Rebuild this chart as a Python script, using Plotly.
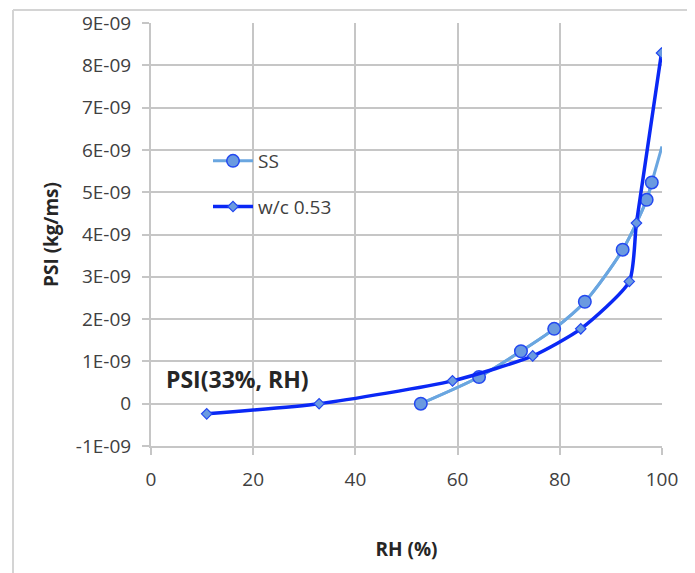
import plotly.graph_objects as go

# ---- data ----
ss_rh = [52.8, 64.2, 72.4, 78.9, 84.9, 92.3, 97.0, 98.0]
ss_psi = [0.0, 0.63e-9, 1.24e-9, 1.77e-9, 2.41e-9, 3.64e-9, 4.82e-9, 5.23e-9]
ss_tail_rh = [100.0]
ss_tail_psi = [6.08e-9]

wc_rh = [10.9, 32.9, 59.0, 74.7, 84.1, 93.6, 95.0, 99.9]
wc_psi = [-0.24e-9, 0.0, 0.54e-9, 1.13e-9, 1.77e-9, 2.89e-9, 4.27e-9, 8.29e-9]

x_ticks = [0, 20, 40, 60, 80, 100]
y_tickvals = [-1e-9, 0, 1e-9, 2e-9, 3e-9, 4e-9, 5e-9, 6e-9, 7e-9, 8e-9, 9e-9]
y_ticktext = ["-1E-09", "0", "1E-09", "2E-09", "3E-09", "4E-09", "5E-09",
              "6E-09", "7E-09", "8E-09", "9E-09"]

# ---- styling ----
FONT = "Open Sans"
GRID = "#c6c6c6"
SS_LINE = "#6aa6e0"
WC_LINE = "#0a28f5"
MARKER_FILL = "#6a9ae0"
MARKER_EDGE = "#2348f0"

OFF = 8  # page body margin
W, H = 695 - OFF, 573 - OFF
L, T = 151 - OFF, 23 - OFF
R = W - (662 - OFF)
B = H - (446 - OFF)
PW, PH = W - L - R, H - T - B


def px(x):  # screen pixel -> paper
    return (x - OFF - L) / PW


def py(y):
    return (H - B - (y - OFF)) / PH


fig = go.Figure()

# SS full curve (line only, includes the unmarked end of the curve)
fig.add_trace(go.Scatter(
    x=ss_rh + ss_tail_rh, y=ss_psi + ss_tail_psi, mode="lines",
    line=dict(color=SS_LINE, width=3, shape="spline", smoothing=0.8),
    showlegend=False, hoverinfo="skip"))

fig.add_trace(go.Scatter(
    x=ss_rh, y=ss_psi, mode="lines+markers", name="SS", legendgroup="a",
    line=dict(color=SS_LINE, width=3, shape="spline", smoothing=0.8),
    marker=dict(symbol="circle", size=12.5, color=MARKER_FILL,
                line=dict(color=MARKER_EDGE, width=1.5))))

fig.add_trace(go.Scatter(
    x=wc_rh, y=wc_psi, mode="lines+markers", name="w/c 0.53", legendgroup="b",
    line=dict(color=WC_LINE, width=3.5, shape="spline", smoothing=0.6),
    marker=dict(symbol="diamond", size=8, color=MARKER_FILL,
                line=dict(color=MARKER_EDGE, width=1.2))))

shapes = [
    # white boxes behind legend and label (hide gridlines)
    dict(type="rect", xref="paper", yref="paper", x0=px(198), x1=px(354),
         y0=py(232), y1=py(135), fillcolor="white", line=dict(width=0),
         layer="between"),
    dict(type="rect", xref="paper", yref="paper", x0=px(157), x1=px(318),
         y0=py(395), y1=py(357), fillcolor="white", line=dict(width=0),
         layer="between"),
    # outer frame lines (top and left)
    dict(type="line", xref="paper", yref="paper", x0=px(13), x1=px(700),
         y0=py(10), y1=py(10), line=dict(color="#d4d4d4", width=2)),
    dict(type="line", xref="paper", yref="paper", x0=px(13), x1=px(13),
         y0=py(10), y1=py(580), line=dict(color="#d4d4d4", width=2)),
]

fig.update_layout(
    width=W, height=H,
    margin=dict(l=L, r=R, t=T, b=B, autoexpand=False),
    paper_bgcolor="white", plot_bgcolor="white",
    font=dict(family=FONT, size=19, color="#404040"),
    shapes=shapes,
    showlegend=True,
    legend=dict(x=px(208), y=py(142), xanchor="left", yanchor="top",
                bgcolor="rgba(0,0,0,0)", borderwidth=0,
                font=dict(family=FONT, size=19, color="#404040"),
                traceorder="grouped", tracegroupgap=18, itemwidth=40),
    annotations=[dict(
        text="<b>PSI(33%, RH)</b>", xref="paper", yref="paper",
        x=px(237), y=py(379), xanchor="center", yanchor="middle",
        showarrow=False, font=dict(family=FONT, size=23, color="#262626"))],
)

fig.update_xaxes(
    range=[0, 100], tickvals=x_ticks, ticktext=[str(v) for v in x_ticks],
    showgrid=True, gridcolor=GRID, gridwidth=2,
    showline=True, linecolor=GRID, linewidth=2,
    ticks="outside", ticklen=7, tickcolor=GRID, tickwidth=2,
    ticklabelstandoff=8, zeroline=False,
    title=dict(text="<b>RH (%)</b>", font=dict(family=FONT, size=19, color="#262626"),
               standoff=52))

fig.update_yaxes(
    range=[-1e-9, 9e-9], tickvals=y_tickvals, ticktext=y_ticktext,
    showgrid=True, gridcolor=GRID, gridwidth=2,
    showline=True, linecolor=GRID, linewidth=2,
    ticks="outside", ticklen=7, tickcolor=GRID, tickwidth=2,
    ticklabelstandoff=7, zeroline=False,
    title=dict(text="<b>PSI (kg/ms)</b>", font=dict(family=FONT, size=19, color="#262626"),
               standoff=12))

fig.write_html("out.html")
